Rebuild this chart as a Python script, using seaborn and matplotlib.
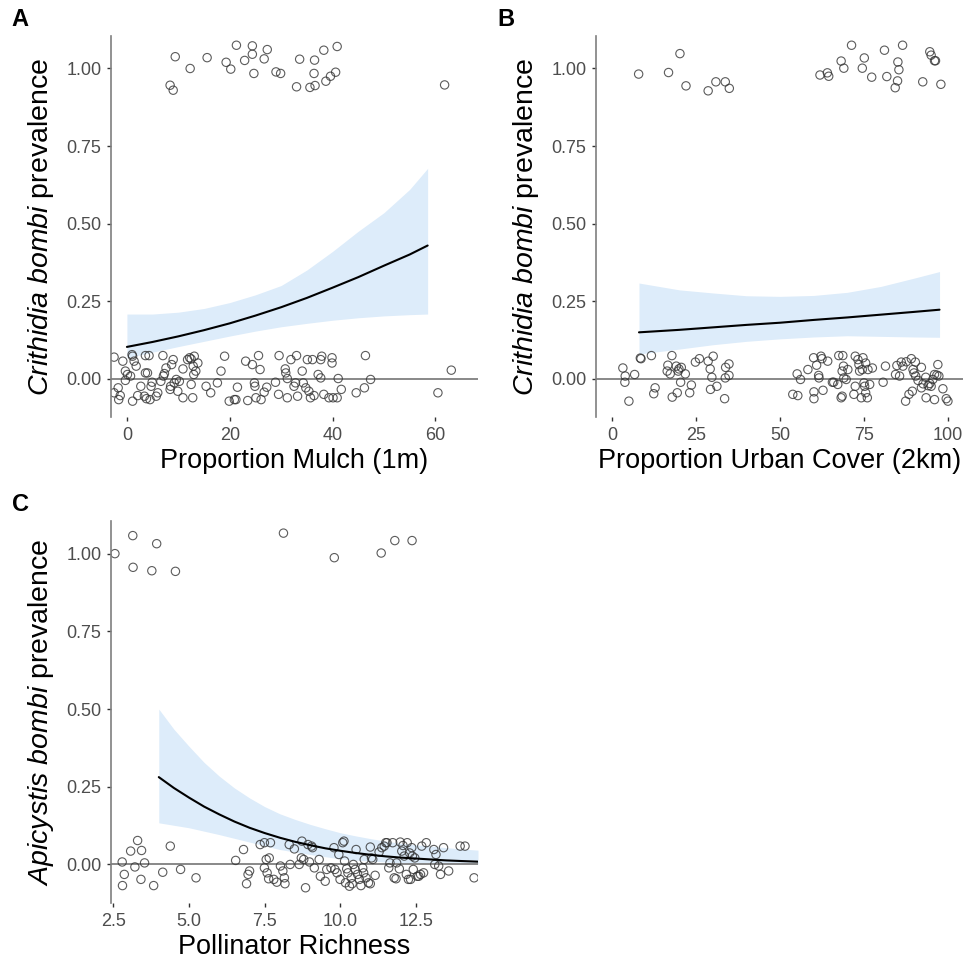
import matplotlib
matplotlib.use("Agg")
import matplotlib.pyplot as plt
import pandas as pd
import seaborn as sns

# ---- Panel A: Crithidia bombi vs proportion mulch (1m) ----
mulch_x = [9.4, 8.4, 9.0, 12.3, 15.6, 19.3, 20.2, 21.3, 22.9, 24.4, 24.4, 24.7, 26.7, 27.3,
           29.0, 29.9, 33.0, 33.6, 35.6, 36.5, 36.4, 36.6, 38.3, 38.7, 39.6, 40.6, 40.9, 61.8,
           -2.5, -0.8, -1.7, -2.5, -1.6, -1.3, -0.3, 0.1, -0.3, 1.0, 1.1, 1.4, 0.7, 1.1, 1.8,
           2.1, 2.7, 3.6, 4.3, 3.6, 4.0, 3.4, 3.8, 4.5, 4.7, 4.9, 5.7, 6.0, 6.6, 7.0, 7.1, 7.3,
           7.6, 8.4, 8.5, 8.7, 9.0, 9.2, 9.6, 9.9, 10.2, 10.9, 10.9, 11.8, 12.2, 12.5, 12.8,
           12.9, 12.5, 13.0, 13.4, 13.1, 13.8, 15.4, 16.3, 17.6, 18.3, 19.0, 19.9, 20.9, 21.5,
           21.2, 23.1, 23.5, 24.4, 24.8, 24.9, 25.1, 25.6, 25.9, 26.1, 26.7, 27.2, 29.6, 28.9,
           29.5, 30.8, 30.9, 31.2, 31.2, 31.9, 32.5, 33.0, 32.8, 33.2, 34.1, 34.3, 34.8, 35.1,
           35.4, 35.7, 36.1, 36.4, 37.2, 37.7, 37.9, 37.7, 38.3, 39.3, 39.9, 39.9, 40.1, 40.9,
           41.1, 41.7, 44.6, 46.2, 46.4, 47.4, 60.5, 63.1]
mulch_prev = [1.038, 0.946, 0.930, 1.000, 1.035, 1.020, 0.998, 1.075, 1.026, 1.073, 1.046, 0.984,
              1.031, 1.061, 0.989, 0.984, 0.941, 1.030, 0.939, 1.027, 0.984, 0.945, 1.059, 0.959,
              0.975, 0.988, 1.071, 0.947,
              0.069, 0.056, -0.030, -0.046, -0.068, -0.055, -0.006, 0.013, 0.024, 0.077, 0.072,
              0.056, 0.008, -0.073, 0.040, -0.055, -0.025, 0.074, 0.074, 0.018, 0.018, -0.057,
              -0.065, -0.068, -0.025, -0.012, -0.057, -0.046, -0.009, 0.074, 0.008, 0.016, 0.034,
              -0.035, -0.025, 0.045, 0.061, -0.014, -0.003, -0.041, -0.009, -0.062, 0.031, 0.061,
              0.067, 0.063, -0.062, 0.040, -0.019, 0.013, 0.024, 0.072, 0.050, -0.025, -0.046,
              -0.014, 0.024, 0.072, -0.073, -0.068, -0.028, -0.068, 0.056, -0.071, 0.045, -0.014,
              -0.025, -0.062, 0.074, 0.029, -0.068, -0.044, -0.028, 0.074, -0.012, -0.051, 0.031,
              0.018, 0.000, -0.062, 0.061, -0.025, 0.074, -0.014, -0.057, 0.024, -0.014, -0.030,
              0.061, -0.041, -0.062, 0.061, -0.055, 0.013, 0.061, 0.072, 0.002, -0.051, -0.062,
              0.067, 0.050, -0.062, -0.062, 0.000, -0.035, -0.046, -0.030, 0.074, -0.003, -0.046,
              0.027]
mulch_fit_x = [0, 5, 10, 15, 20, 25, 30, 35, 40, 45, 50, 55, 58.5]
mulch_fit = [0.102, 0.118, 0.136, 0.156, 0.178, 0.203, 0.230, 0.260, 0.293, 0.327, 0.364, 0.400, 0.429]
mulch_lo = [0.067, 0.085, 0.103, 0.120, 0.137, 0.153, 0.167, 0.178, 0.188, 0.196, 0.202, 0.206, 0.208]
mulch_hi = [0.208, 0.208, 0.214, 0.226, 0.245, 0.270, 0.300, 0.350, 0.410, 0.475, 0.535, 0.610, 0.678]

# ---- Panel B: Crithidia bombi vs proportion urban cover (2km) ----
urban_x = [7.9, 16.8, 20.2, 22.0, 28.6, 30.9, 33.7, 34.9, 61.9, 64.1, 64.5, 68.2, 69.0, 71.3,
           74.5, 75.1, 77.3, 81.1, 81.8, 85.1, 85.4, 85.0, 84.3, 86.5, 92.5, 94.6, 95.0, 96.0,
           96.3, 97.9,
           3.2, 3.9, 3.8, 5.0, 6.7, 8.6, 8.4, 11.7, 12.8, 12.4, 16.6, 16.4, 17.3, 17.8, 19.1,
           19.7, 19.9, 20.6, 21.8, 20.4, 17.9, 19.4, 23.1, 23.6, 24.8, 26.0, 28.6, 30.1, 29.2,
           29.7, 29.3, 31.2, 33.5, 33.8, 34.8, 33.7, 34.8,
           53.8, 55.3, 55.1, 56.1, 58.3, 60.0, 60.1, 60.1, 60.9, 61.5, 61.6, 62.2, 62.5, 62.8,
           64.2, 65.6, 66.0, 67.2, 67.5, 68.2, 68.5, 68.7, 68.9, 68.5, 69.0, 69.7, 70.2, 72.0,
           72.4, 72.4, 73.2, 73.5, 73.7, 74.2, 74.5, 74.7, 75.0, 75.2, 75.5, 75.5, 76.0, 76.2,
           76.7, 77.5, 80.7, 81.4, 84.4, 84.8, 85.6, 86.1, 86.6, 87.4, 87.6, 88.4, 89.1, 89.4,
           89.6, 89.9, 90.3, 90.4, 91.1, 92.1, 92.1, 92.6, 93.4, 93.5, 94.1, 94.6, 95.0, 95.5,
           96.0, 96.0, 96.7, 97.0, 97.3, 98.5, 99.5, 100.0]
urban_prev = [0.982, 0.987, 1.048, 0.944, 0.928, 0.957, 0.957, 0.936, 0.979, 0.986, 0.975, 1.024,
              1.001, 1.075, 1.001, 1.034, 0.972, 1.059, 0.974, 1.021, 0.996, 0.960, 0.938, 1.075,
              0.957, 1.054, 1.043, 1.025, 1.025, 0.949,
              0.034, 0.008, -0.012, -0.073, 0.013, 0.064, 0.066, 0.074, -0.030, -0.049, 0.043,
              0.024, 0.015, 0.074, 0.040, 0.024, 0.031, 0.036, 0.015, -0.012, -0.060, -0.046,
              -0.046, -0.021, 0.053, 0.064, 0.056, 0.072, 0.031, 0.004, -0.035, -0.025, -0.065,
              0.036, 0.047, 0.002, 0.010,
              -0.051, -0.055, 0.015, -0.003, 0.029, 0.067, -0.043, -0.065, 0.043, 0.010, 0.002,
              0.072, 0.064, -0.038, 0.056, -0.012, -0.012, -0.019, 0.074, -0.062, -0.057, 0.074,
              0.040, 0.024, 0.002, -0.003, 0.029, -0.051, -0.025, 0.072, 0.061, 0.045, 0.024,
              -0.062, 0.029, 0.067, -0.014, -0.025, -0.046, 0.050, -0.062, 0.029, -0.019, 0.034,
              -0.012, 0.040, 0.013, 0.042, 0.008, 0.053, 0.040, -0.073, 0.054, -0.051, 0.064,
              -0.041, 0.029, 0.018, 0.053, 0.008, -0.006, 0.036, -0.030, -0.017, 0.004, -0.062,
              -0.023, -0.016, -0.025, -0.003, 0.013, -0.068, 0.011, 0.045, 0.008, -0.033, -0.065,
              -0.073]
urban_fit_x = [8, 20, 30, 40, 50, 60, 70, 80, 90, 97.5]
urban_fit = [0.149, 0.157, 0.165, 0.173, 0.180, 0.189, 0.197, 0.206, 0.215, 0.222]
urban_lo = [0.079, 0.095, 0.109, 0.120, 0.128, 0.134, 0.138, 0.136, 0.134, 0.133]
urban_hi = [0.308, 0.286, 0.276, 0.267, 0.265, 0.268, 0.278, 0.297, 0.324, 0.345]

# ---- Panel C: Apicystis bombi vs pollinator richness ----
rich_x = [2.55, 3.14, 3.15, 3.77, 3.93, 4.55, 8.12, 9.80, 11.35, 11.80, 12.37,
          2.79, 2.80, 2.86, 3.07, 3.21, 3.30, 3.43, 3.41, 3.53, 3.83, 4.13, 4.38, 4.72, 5.23,
          6.54, 6.80, 6.90, 6.95, 7.00, 7.35, 7.49, 7.69, 7.49, 7.55, 7.65, 7.58, 7.63, 7.80,
          7.90, 8.02, 8.10, 8.15, 8.17, 8.31, 8.34, 8.48, 8.64, 8.73, 8.71, 8.79, 8.85, 8.93,
          8.98, 9.05, 9.08, 9.14, 9.30, 9.34, 9.50, 9.55, 9.69, 9.79, 9.82, 9.89, 9.95, 9.99,
          10.08, 10.12, 10.14, 10.17, 10.21, 10.25, 10.30, 10.36, 10.39, 10.43, 10.49, 10.52,
          10.57, 10.63, 10.68, 10.74, 10.77, 10.79, 10.85, 10.93, 10.99, 10.99, 11.03, 11.07,
          11.15, 11.28, 11.37, 11.45, 11.50, 11.54, 11.60, 11.64, 11.73, 11.78, 11.84, 11.86,
          11.95, 11.98, 12.03, 12.07, 12.11, 12.18, 12.21, 12.25, 12.29, 12.32, 12.36, 12.38,
          12.41, 12.46, 12.54, 12.59, 12.65, 12.69, 12.75, 12.84, 13.09, 13.12, 13.16, 13.25,
          13.31, 13.41, 13.58, 13.96, 14.12, 14.42]
rich_prev = [1.000, 1.058, 0.956, 0.945, 1.032, 0.943, 1.066, 0.987, 1.002, 1.042, 1.042,
             0.008, -0.068, -0.032, 0.043, -0.008, 0.077, 0.045, -0.048, 0.005, -0.068, -0.025,
             0.059, -0.016, -0.043, 0.013, 0.048, -0.062, -0.032, -0.021, 0.064, 0.070, 0.070,
             -0.011, 0.016, 0.021, -0.027, -0.046, -0.048, -0.057, -0.005, -0.021, -0.043, -0.062,
             0.064, 0.000, 0.050, 0.000, 0.075, 0.021, 0.016, -0.075, 0.064, 0.008, 0.059, 0.054,
             -0.011, 0.016, -0.038, -0.054, -0.016, -0.011, 0.054, -0.016, -0.027, 0.032, -0.048,
             0.070, 0.075, 0.011, -0.059, -0.014, -0.027, -0.070, -0.043, -0.062, 0.000, -0.016,
             0.048, -0.032, -0.048, -0.068, -0.011, -0.027, 0.016, -0.043, -0.059, 0.056, -0.062,
             0.021, 0.016, -0.035, 0.040, 0.054, 0.059, 0.070, 0.070, -0.011, 0.005, 0.070,
             -0.043, -0.046, 0.005, -0.014, 0.072, 0.043, 0.061, 0.027, -0.032, 0.070, -0.048,
             0.037, -0.048, 0.054, 0.027, -0.016, 0.021, -0.038, -0.038, -0.032, 0.059, -0.027,
             0.070, 0.048, 0.000, 0.032, -0.005, -0.032, 0.054, -0.021, 0.059, 0.059, -0.043]
rich_fit_x = [4.0, 4.5, 5.0, 5.5, 6.0, 6.5, 7.0, 7.5, 8.0, 8.5, 9.0, 9.5, 10.0, 10.5, 11.0,
              11.5, 12.0, 12.5, 13.0, 13.5, 14.0, 14.55]
rich_fit = [0.281, 0.246, 0.215, 0.186, 0.161, 0.138, 0.118, 0.101, 0.086, 0.073, 0.062, 0.052,
            0.044, 0.037, 0.031, 0.026, 0.022, 0.019, 0.016, 0.013, 0.011, 0.009]
rich_lo = [0.134, 0.126, 0.118, 0.107, 0.096, 0.084, 0.072, 0.060, 0.048, 0.040, 0.032, 0.025,
           0.018, 0.014, 0.011, 0.008, 0.005, 0.004, 0.003, 0.0025, 0.002, 0.0015]
rich_hi = [0.500, 0.435, 0.380, 0.328, 0.284, 0.246, 0.214, 0.186, 0.163, 0.145, 0.129, 0.115,
           0.102, 0.092, 0.083, 0.075, 0.068, 0.063, 0.059, 0.054, 0.050, 0.046]

y_ticks = [0.0, 0.25, 0.5, 0.75, 1.0]
y_ticklabels = ["0.00", "0.25", "0.50", "0.75", "1.00"]

sns.set_style("white")
plt.rcParams["font.family"] = ["Liberation Sans", "DejaVu Sans"]
plt.rcParams["mathtext.fontset"] = "custom"
plt.rcParams["mathtext.rm"] = "Liberation Sans"
plt.rcParams["mathtext.it"] = "Liberation Sans:italic"

GREY = "#7f7f7f"
RIBBON = "#ddecfa"


def draw_panel(ax, x, y, fit_x, fit, lo, hi, xlim, xticks, xticklabels, xlabel, ylabel, letter):
    pts = pd.DataFrame({"x": x, "y": y})
    curve = pd.DataFrame({"x": fit_x, "fit": fit, "lo": lo, "hi": hi})
    ax.axhline(0, color=GREY, lw=1.3, zorder=1)
    ax.fill_between(curve["x"], curve["lo"], curve["hi"], color=RIBBON, lw=0, zorder=0)
    sns.lineplot(data=curve, x="x", y="fit", ax=ax, color="black", lw=1.5, zorder=3)
    sns.scatterplot(data=pts, x="x", y="y", ax=ax, facecolor="none", edgecolor="#333333",
                    linewidth=0.8, s=36, alpha=0.8, zorder=2)
    ax.set_xlim(*xlim)
    ax.set_ylim(-0.124, 1.104)
    ax.set_xticks(xticks)
    ax.set_xticklabels(xticklabels)
    ax.set_yticks(y_ticks)
    ax.set_yticklabels(y_ticklabels)
    ax.tick_params(axis="both", length=3, width=1, color="#333333", labelcolor="#4d4d4d",
                   labelsize=13, pad=4, left=True, bottom=True)
    for side in ["top", "right", "bottom"]:
        ax.spines[side].set_visible(False)
    ax.spines["left"].set_color(GREY)
    ax.spines["left"].set_linewidth(1.2)
    ax.set_xlabel(xlabel, fontsize=19.5, labelpad=3, color="black")
    ax.set_ylabel(ylabel, fontsize=20.5, labelpad=7, color="black")
    ax.text(-0.27, 1.045, letter, transform=ax.transAxes, fontsize=17, fontweight="bold",
            ha="left", va="center", color="black")


fig = plt.figure(figsize=(9.71, 9.59), dpi=100)
ax_a = fig.add_axes([0.1143, 0.5652, 0.378, 0.397])
ax_b = fig.add_axes([0.6138, 0.5652, 0.378, 0.397])
ax_c = fig.add_axes([0.1143, 0.0584, 0.378, 0.398])

draw_panel(ax_a, mulch_x, mulch_prev, mulch_fit_x, mulch_fit, mulch_lo, mulch_hi,
           (-3.1, 68.3), [0, 20, 40, 60], ["0", "20", "40", "60"],
           "Proportion Mulch (1m)", r"$\it{Crithidia\ bombi}$ prevalence", "A")
draw_panel(ax_b, urban_x, urban_prev, urban_fit_x, urban_fit, urban_lo, urban_hi,
           (-4.8, 104.5), [0, 25, 50, 75, 100], ["0", "25", "50", "75", "100"],
           "Proportion Urban Cover (2km)", r"$\it{Crithidia\ bombi}$ prevalence", "B")
draw_panel(ax_c, rich_x, rich_prev, rich_fit_x, rich_fit, rich_lo, rich_hi,
           (2.42, 14.55), [2.5, 5.0, 7.5, 10.0, 12.5], ["2.5", "5.0", "7.5", "10.0", "12.5"],
           "Pollinator Richness", r"$\it{Apicystis\ bombi}$ prevalence", "C")

fig.savefig("out.png", dpi=100)
